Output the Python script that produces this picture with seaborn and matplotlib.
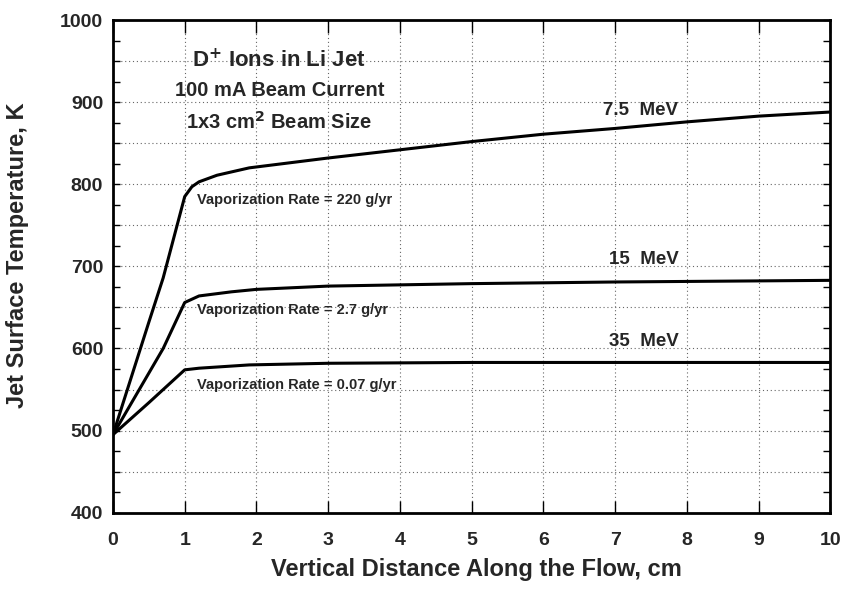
import matplotlib
matplotlib.use("Agg")
import matplotlib.pyplot as plt
import seaborn as sns
import pandas as pd
from matplotlib.ticker import MultipleLocator, FuncFormatter

sns.set_theme(style="white")
plt.rcParams['font.family'] = ['Liberation Sans', 'DejaVu Sans']
plt.rcParams['mathtext.default'] = 'bf'

x_75 = [0, 0.5, 0.7, 1.0, 1.1, 1.2, 1.45, 1.9, 3, 4, 5, 6, 7, 8, 9, 10]
y_75 = [495, 632, 686, 785, 797, 803, 811, 820, 832, 842, 852, 861, 868, 876, 883, 888]
x_15 = [0, 0.7, 1.0, 1.2, 1.65, 2, 3, 5, 7, 10]
y_15 = [495, 600, 656, 664, 669, 672, 676, 679, 681, 683]
x_35 = [0, 0.5, 1.0, 1.2, 1.9, 3, 5, 10]
y_35 = [495, 534, 574, 576, 580, 582, 583, 583]

series = {"7.5 MeV": (x_75, y_75), "15 MeV": (x_15, y_15), "35 MeV": (x_35, y_35)}
frames = []
for name, (xs, ys) in series.items():
    frames.append(pd.DataFrame({"x": xs, "y": ys, "s": name}))
df = pd.concat(frames, ignore_index=True)

fig = plt.figure(figsize=(8.43, 5.9), dpi=100)
ax = fig.add_axes([0.134, 0.131, 0.851, 0.835])
sns.lineplot(data=df, x="x", y="y", units="s", estimator=None, color="black",
             linewidth=2.2, ax=ax, legend=False)

ax.set_xlim(0, 10)
ax.set_ylim(400, 1000)
ax.xaxis.set_major_locator(MultipleLocator(1))
ax.yaxis.set_major_locator(MultipleLocator(50))
ax.yaxis.set_minor_locator(MultipleLocator(25))
ax.yaxis.set_major_formatter(FuncFormatter(lambda v, p: f"{int(v)}" if int(round(v)) % 100 == 0 else ""))
ax.grid(True, which="major", linestyle=(0, (1, 2.5)), color="#666666", linewidth=0.8)
for sp in ax.spines.values():
    sp.set_linewidth(2)
    sp.set_color("black")
ax.tick_params(which="both", direction="in", top=True, right=True,
               bottom=True, left=True, width=1, color="black")
ax.tick_params(axis="x", which="major", length=9, pad=14)
ax.tick_params(axis="y", which="major", length=5, pad=7)
ax.tick_params(axis="y", which="minor", length=5)
ax.tick_params(axis="both", labelsize=14)
for lab in ax.get_xticklabels() + ax.get_yticklabels():
    lab.set_fontweight("bold")

ax.set_xlabel("Vertical Distance Along the Flow, cm", fontsize=17, fontweight="bold")
ax.set_ylabel("Jet Surface Temperature, K", fontsize=17, fontweight="bold")
ax.xaxis.set_label_coords(0.506, -0.116)
ax.yaxis.set_label_coords(-0.1325, 0.523)
ax.xaxis.label.set_va("center")
ax.yaxis.label.set_va("center")

ax.text(2.32, 951, r"D$^{+}$ Ions in Li Jet", ha="center", va="center", fontsize=16, fontweight="bold")
ax.text(2.32, 914, "100 mA Beam Current", ha="center", va="center", fontsize=14.5, fontweight="bold")
ax.text(2.32, 876, r"1x3 cm$^{2}$ Beam Size", ha="center", va="center", fontsize=14.5, fontweight="bold")

ax.text(1.17, 781, "Vaporization Rate = 220 g/yr", ha="left", va="center", fontsize=10.5, fontweight="bold")
ax.text(1.17, 647, "Vaporization Rate = 2.7 g/yr", ha="left", va="center", fontsize=10.5, fontweight="bold")
ax.text(1.17, 556, "Vaporization Rate = 0.07 g/yr", ha="left", va="center", fontsize=10.5, fontweight="bold")

ax.text(7.88, 890, "7.5  MeV", ha="right", va="center", fontsize=13.5, fontweight="bold")
ax.text(7.88, 708, "15  MeV", ha="right", va="center", fontsize=13.5, fontweight="bold")
ax.text(7.88, 608, "35  MeV", ha="right", va="center", fontsize=13.5, fontweight="bold")

fig.savefig("out.png", dpi=100)
